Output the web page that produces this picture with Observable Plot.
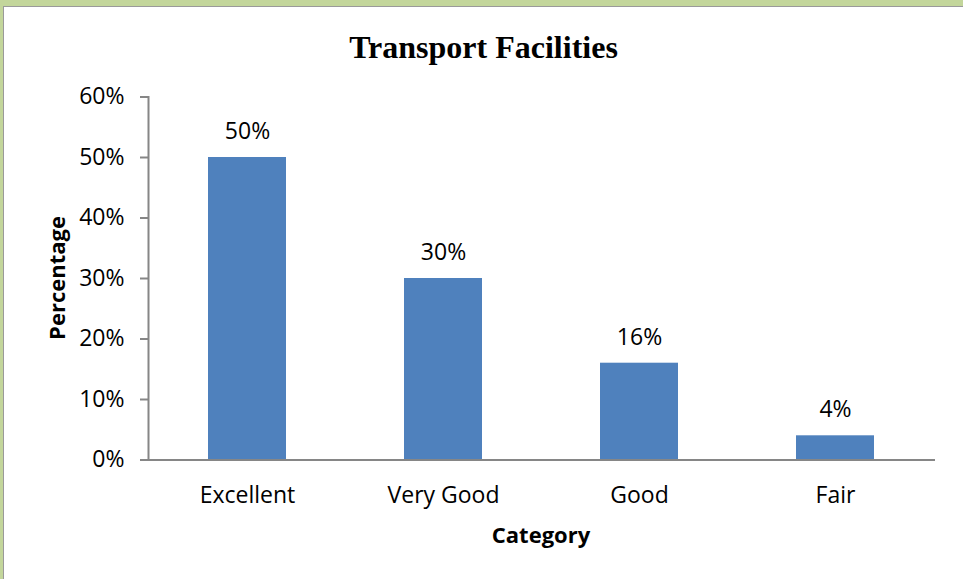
<!DOCTYPE html>
<html>
<head>
<meta charset="utf-8">
<script src="https://cdn.jsdelivr.net/npm/d3@7"></script>
<script src="https://cdn.jsdelivr.net/npm/@observablehq/plot@0.6"></script>
<style>
  html, body { margin: 0; padding: 0; }
  body { width: 963px; height: 579px; background: #c3d69b; position: relative; overflow: hidden; font-family: "Open Sans", sans-serif; }
  #sheet { position: absolute; left: 3px; top: 6px; right: -10px; bottom: -10px; background: #fff; border-left: 1px solid #9a9a9a; border-top: 1px solid #9a9a9a; }
  #chart { position: absolute; left: 0; top: 0; }
  .title { position: absolute; left: 0; width: 967px; top: 27px; text-align: center; font-family: "Liberation Serif", "Times New Roman", serif; font-weight: bold; font-size: 32px; line-height: 40px; color: #000; }
  .xlabel { position: absolute; left: 441px; width: 200px; top: 519px; text-align: center; font-weight: bold; font-size: 22px; line-height: 30px; color: #000; }
  .ylabel { position: absolute; left: 56px; top: 278px; transform: translate(-50%, -50%) rotate(-90deg); white-space: nowrap; font-weight: bold; font-size: 22px; line-height: 30px; color: #000; }
</style>
</head>
<body>
<div id="sheet"></div>
<div id="chart"></div>
<div class="title">Transport Facilities</div>
<div class="ylabel">Percentage</div>
<div class="xlabel">Category</div>
<script>
const categories = ["Excellent", "Very Good", "Good", "Fair"];
const percentages = [0.50, 0.30, 0.16, 0.04];
const yTicks = [0, 0.1, 0.2, 0.3, 0.4, 0.5, 0.6];

const data = categories.map((c, i) => ({category: c, value: percentages[i]}));
const pct = d3.format(".0%");
const axisColor = "#868686";

const chart = Plot.plot({
  width: 963,
  height: 579,
  marginLeft: 148,
  marginRight: 28,
  marginTop: 96.5,
  marginBottom: 119.5,
  style: {background: "transparent", fontFamily: "Open Sans, sans-serif", fontSize: "23px", color: "#000", overflow: "visible"},
  x: {domain: categories, paddingInner: 0.6, paddingOuter: 0.3, axis: null},
  y: {domain: [0, 0.6], axis: null},
  marks: [
    Plot.barY(data, {x: "category", y: "value", fill: "#4f81bd"}),
    Plot.frame({anchor: "left", stroke: axisColor, strokeWidth: 2}),
    Plot.ruleY([0], {stroke: axisColor, strokeWidth: 2}),
    Plot.axisY({ticks: yTicks, tickFormat: pct, tickSize: 8, tickPadding: 16, stroke: axisColor, strokeWidth: 2, fill: "#000", label: null, fontSize: 23}),
    Plot.axisX({tickSize: 0, tickPadding: 27, fill: "#000", label: null, fontSize: 23}),
    Plot.text(data, {x: "category", y: "value", text: d => pct(d.value), dy: -26, fill: "#000", fontSize: 23})
  ]
});
document.getElementById("chart").appendChild(chart);
</script>
</body>
</html>
